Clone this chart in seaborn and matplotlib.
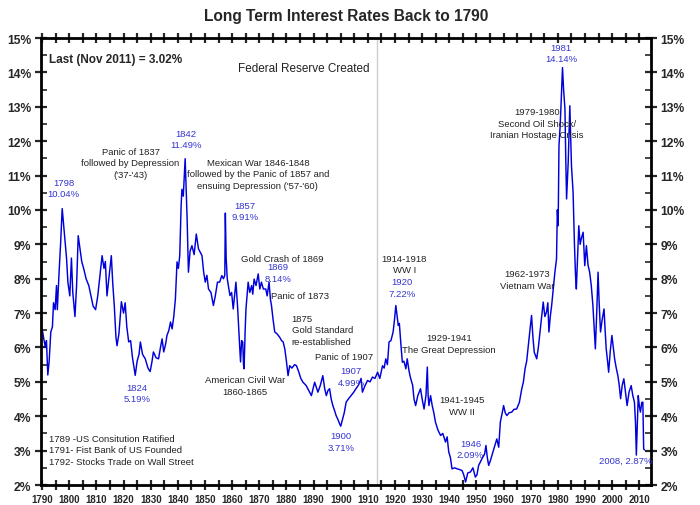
import pandas as pd
import numpy as np
import matplotlib.pyplot as plt
import matplotlib.ticker as mticker
import seaborn as sns

# Long-term rate series (decimal year, percent)
years = [
    1790.0, 1790.5, 1791.2, 1791.6, 1792.1, 1792.6, 1793.2, 1793.8, 1794.2, 1794.8,
    1795.3, 1795.6, 1796.2, 1796.8, 1797.4, 1797.9, 1798.5, 1799.0, 1799.5, 1800.2,
    1800.8, 1801.3, 1802.1, 1802.7, 1803.3, 1803.9, 1804.6, 1805.3, 1806.2, 1807.2,
    1808.0, 1808.8, 1809.7, 1810.5, 1811.2, 1812.1, 1812.8, 1813.3, 1813.9, 1814.6,
    1815.5, 1816.0, 1816.6, 1817.2, 1817.6, 1818.3, 1819.2, 1820.0, 1820.6, 1821.2,
    1821.9, 1822.6, 1823.3, 1824.3, 1825.0, 1825.7, 1826.2, 1827.0, 1828.0, 1829.0,
    1829.8, 1830.5, 1831.0, 1832.0, 1832.9, 1833.6, 1834.2, 1834.8, 1835.5, 1836.0,
    1836.7, 1837.3, 1837.9, 1838.5, 1839.1, 1839.7, 1840.2, 1840.7, 1841.2, 1841.5,
    1842.0, 1842.4, 1842.7, 1843.1, 1843.4, 1843.9, 1844.5, 1845.2, 1846.0, 1846.8,
    1847.6, 1848.9, 1849.5, 1850.1, 1850.7, 1851.3, 1852.2, 1853.1, 1853.8, 1854.6,
    1855.4, 1856.2, 1856.8, 1857.3, 1857.5, 1857.8, 1858.2, 1859.2, 1859.8, 1860.4,
    1861.0, 1861.4, 1862.0, 1862.3, 1862.8, 1863.1, 1863.5, 1863.9, 1864.2, 1864.4,
    1864.8, 1865.1, 1865.9, 1866.5, 1867.2, 1867.6, 1868.1, 1868.8, 1869.6, 1870.2,
    1870.8, 1871.5, 1872.4, 1872.9, 1873.6, 1874.1, 1874.5, 1875.1, 1875.7, 1876.5,
    1877.5, 1878.2, 1878.8, 1879.4, 1880.0, 1880.6, 1881.2, 1882.0, 1883.0, 1883.7,
    1884.5, 1885.3, 1886.1, 1887.3, 1888.2, 1889.2, 1890.4, 1891.6, 1892.5, 1893.4,
    1894.1, 1894.7, 1895.3, 1895.9, 1896.5, 1897.1, 1897.8, 1898.3, 1899.0, 1899.5,
    1900.0, 1900.7, 1901.3, 1902.0, 1902.8, 1903.8, 1904.8, 1905.6, 1906.5, 1907.0,
    1907.5, 1908.0, 1909.0, 1909.9, 1910.8, 1911.7, 1912.6, 1913.6, 1914.4, 1915.4,
    1916.0, 1916.6, 1917.2, 1917.8, 1918.5, 1919.3, 1919.8, 1920.3, 1920.8, 1921.2,
    1921.6, 1922.1, 1922.7, 1923.3, 1924.0, 1924.5, 1925.2, 1925.8, 1926.5, 1927.0,
    1927.6, 1928.4, 1929.4, 1930.0, 1930.7, 1931.4, 1931.9, 1932.2, 1932.5, 1933.1,
    1933.7, 1934.3, 1934.9, 1935.8, 1936.8, 1937.6, 1938.6, 1939.2, 1939.8, 1940.4,
    1941.0, 1942.0, 1942.9, 1943.8, 1944.7, 1945.3, 1946.0, 1946.8, 1947.8, 1948.7,
    1949.6, 1950.2, 1950.8, 1952.0, 1953.0, 1953.5, 1954.0, 1954.5, 1955.1, 1955.7,
    1956.6, 1957.5, 1958.2, 1958.8, 1959.5, 1960.0, 1960.6, 1961.2, 1962.0, 1963.0,
    1963.8, 1964.8, 1965.8, 1966.7, 1967.3, 1967.9, 1968.5, 1969.1, 1969.7, 1970.3,
    1970.8, 1971.3, 1972.2, 1972.8, 1973.4, 1974.0, 1974.6, 1975.2, 1975.8, 1976.3,
    1976.7, 1977.2, 1977.7, 1978.3, 1978.9, 1979.5, 1979.8, 1980.1, 1980.4, 1980.8,
    1981.1, 1981.7, 1982.1, 1982.6, 1982.9, 1983.2, 1983.8, 1984.4, 1985.0, 1985.6,
    1986.1, 1986.5, 1986.8, 1987.2, 1987.7, 1988.2, 1988.6, 1989.3, 1989.9, 1990.5,
    1991.1, 1991.7, 1992.3, 1992.9, 1993.4, 1993.8, 1994.3, 1994.8, 1995.2, 1995.7,
    1996.3, 1997.0, 1997.4, 1997.8, 1998.3, 1998.7, 1999.3, 1999.9, 2000.4, 2000.9,
    2001.5, 2002.1, 2002.6, 2003.1, 2003.7, 2004.3, 2004.9, 2005.5, 2006.2, 2007.0,
    2007.6, 2008.2, 2008.6, 2008.9, 2009.2, 2009.6, 2010.0, 2010.4, 2010.9, 2011.3,
    2011.6, 2011.9,
]
rates = [
    6.55, 6.30, 6.00, 6.20, 5.20, 5.60, 6.45, 6.60, 7.30, 7.10,
    7.80, 7.10, 8.10, 9.00, 10.04, 9.60, 9.10, 8.60, 7.90, 7.50,
    8.60, 7.60, 6.90, 7.80, 9.25, 8.90, 8.50, 8.30, 8.00, 7.80,
    7.50, 7.20, 7.10, 7.50, 8.00, 8.67, 8.30, 8.50, 7.50, 8.00,
    8.67, 7.90, 7.20, 6.30, 6.05, 6.40, 7.33, 7.00, 7.30, 6.60,
    6.16, 6.20, 5.70, 5.19, 5.60, 5.80, 6.16, 5.80, 5.67, 5.40,
    5.30, 5.60, 5.87, 5.70, 5.67, 6.00, 6.25, 5.87, 6.10, 6.35,
    6.50, 6.74, 6.54, 6.90, 7.41, 8.49, 8.30, 8.67, 10.10, 10.60,
    10.40, 11.00, 11.49, 10.50, 9.80, 8.19, 8.80, 8.96, 8.70, 9.30,
    8.87, 8.67, 8.20, 7.90, 8.10, 7.70, 7.60, 7.22, 7.50, 7.90,
    7.90, 8.09, 8.00, 8.10, 9.91, 8.60, 8.00, 7.51, 7.60, 7.12,
    7.60, 7.90, 7.20, 6.74, 6.00, 5.58, 6.20, 6.16, 5.50, 5.38,
    6.50, 7.12, 7.90, 7.60, 7.80, 7.55, 7.99, 7.80, 8.14, 7.70,
    7.90, 7.70, 7.70, 7.50, 7.90, 7.40, 7.22, 6.80, 6.45, 6.40,
    6.30, 6.20, 6.16, 5.96, 5.60, 5.18, 5.47, 5.40, 5.50, 5.47,
    5.30, 5.10, 4.99, 4.89, 4.75, 4.60, 4.99, 4.70, 4.90, 5.18,
    4.80, 4.60, 4.75, 4.80, 4.50, 4.31, 4.15, 4.02, 3.90, 3.80,
    3.71, 3.92, 4.10, 4.41, 4.50, 4.60, 4.70, 4.80, 4.90, 4.99,
    5.10, 4.70, 4.90, 5.04, 5.00, 5.14, 5.10, 5.28, 5.10, 5.47,
    5.40, 5.67, 5.50, 6.16, 6.20, 6.45, 6.80, 7.22, 6.90, 6.64,
    6.70, 6.16, 5.57, 5.60, 5.38, 5.67, 5.30, 5.09, 4.90, 4.50,
    4.31, 4.60, 4.80, 4.50, 4.21, 4.60, 5.43, 4.60, 4.31, 4.60,
    4.31, 4.10, 3.83, 3.60, 3.44, 3.50, 3.25, 3.40, 2.96, 2.80,
    2.47, 2.50, 2.47, 2.45, 2.42, 2.30, 2.09, 2.35, 2.38, 2.50,
    2.23, 2.30, 2.57, 2.76, 2.90, 3.15, 2.80, 2.57, 2.70, 2.86,
    3.10, 3.34, 3.10, 3.83, 4.10, 4.31, 4.10, 4.02, 4.10, 4.12,
    4.20, 4.21, 4.40, 4.80, 5.00, 5.38, 5.60, 6.06, 6.50, 6.93,
    6.30, 5.86, 5.67, 6.00, 6.45, 6.90, 7.32, 6.90, 7.03, 7.30,
    6.45, 6.90, 7.22, 7.70, 8.19, 8.58, 10.00, 9.54, 11.87, 12.40,
    12.94, 14.14, 13.50, 12.94, 11.50, 10.32, 11.39, 13.03, 11.29, 10.51,
    9.00, 8.09, 7.70, 8.50, 9.54, 9.00, 9.16, 9.35, 8.38, 8.96,
    8.40, 8.19, 7.80, 7.22, 6.50, 5.96, 7.00, 8.19, 7.30, 6.45,
    6.80, 7.12, 6.50, 5.96, 5.60, 5.28, 5.90, 6.35, 6.00, 5.67,
    5.40, 5.18, 4.90, 4.51, 4.90, 5.09, 4.70, 4.31, 4.70, 4.89,
    4.60, 4.41, 3.80, 2.87, 3.60, 4.60, 4.30, 4.12, 4.40, 4.41,
    3.05, 3.02,
]

# event labels (black) and peak/trough labels (blue): text, year, rate
event_notes = [
    ("Panic of 1837\nfollowed by Depression\n('37-'43)", 1822.6, 11.37),
    ("Mexican War 1846-1848\nfollowed by the Panic of 1857 and\nensuing Depression ('57-'60)", 1869.5, 11.05),
    ("Gold Crash of 1869", 1878.3, 8.58),
    ("Panic of 1873", 1884.9, 7.50),
    ("American Civil War\n1860-1865", 1864.7, 4.89),
    ("Panic of 1907", 1901.4, 5.73),
    ("1914-1918\nWW I", 1923.4, 8.43),
    ("1929-1941\nThe Great Depression", 1939.8, 6.12),
    ("1941-1945\nWW II", 1944.7, 4.31),
    ("1962-1973\nVietnam War", 1968.6, 7.98),
    ("1979-1980\nSecond Oil Shock/\nIranian Hostage Crisis", 1972.2, 12.52),
]
peak_notes = [
    ("1798\n10.04%", 1797.9, 10.64),
    ("1842\n11.49%", 1843.1, 12.06),
    ("1857\n9.91%", 1864.7, 9.97),
    ("1869\n8.14%", 1876.8, 8.18),
    ("1824\n5.19%", 1825.0, 4.67),
    ("1900\n3.71%", 1900.1, 3.27),
    ("1907\n4.99%", 1903.8, 5.15),
    ("1920\n7.22%", 1922.7, 7.74),
    ("1946\n2.09%", 1947.8, 3.05),
    ("1981\n14.14%", 1981.1, 14.56),
    ("2008, 2.87%", 2005.1, 2.73),
]

df = pd.DataFrame({"year": years, "rate": rates})

sns.set_style("white")
plt.rcParams['font.family'] = ['Liberation Sans', 'DejaVu Sans']
narrow = ['Liberation Sans Narrow', 'Liberation Sans', 'DejaVu Sans']

fig = plt.figure(figsize=(7, 5.06), dpi=100)
ax = fig.add_axes([0.0586, 0.0395, 0.8714, 0.8834])

sns.lineplot(data=df, x="year", y="rate", ax=ax, color="#0000dd", linewidth=1.05)

# Federal Reserve line
ax.axvline(1913.4, color="#cccccc", linewidth=1, zorder=0)

ax.set_xlim(1789.6, 2014.3)
ax.set_ylim(2, 15)
ax.set_xlabel("")
ax.set_ylabel("")

ax.xaxis.set_major_locator(mticker.MultipleLocator(10))
ax.xaxis.set_minor_locator(mticker.MultipleLocator(5))
ax.yaxis.set_major_locator(mticker.MultipleLocator(1))
ax.yaxis.set_minor_locator(mticker.MultipleLocator(0.5))
ax.yaxis.set_major_formatter(mticker.FuncFormatter(lambda v, p: f"{v:.0f}%"))
ax.xaxis.set_major_formatter(mticker.FuncFormatter(lambda v, p: f"{v:.0f}"))

ax.tick_params(axis='x', which='both', direction='inout', length=7, width=1.6,
               top=True, bottom=True, labelsize=7, pad=3)
ax.tick_params(axis='y', which='major', direction='inout', length=8, width=1.6,
               left=True, right=True, labelleft=True, labelright=True,
               labelsize=8.7, pad=3)
ax.tick_params(axis='y', which='minor', direction='in', length=4, width=1.2,
               left=True, right=True)
for lab in ax.get_xticklabels() + ax.get_yticklabels():
    lab.set_fontweight('bold')

for side in ['left', 'right', 'top', 'bottom']:
    ax.spines[side].set_linewidth(2)
    ax.spines[side].set_color('black')

ax.set_title("Long Term Interest Rates Back to 1790", fontsize=11.2, fontweight='bold',
             pad=13)

ax.text(1792.6, 14.39, "Last (Nov 2011) = 3.02%", fontsize=8.5, fontweight='bold',
        ha='left', va='center')
ax.text(1910.6, 14.13, "Federal Reserve Created", fontsize=8.5, ha='right',
        va='center', color='#222222')

for txt, x, y in event_notes:
    ax.text(x, y, txt, fontsize=6.8, family=narrow, ha='center', va='center',
            color='#222222', linespacing=1.35)
ax.text(1881.9, 6.51, "1875\nGold Standard\nre-established", fontsize=6.8,
        family=narrow, ha='left', va='center', color='#222222', linespacing=1.35)
ax.text(1792.4, 3.03,
        "1789 -US Consitution Ratified\n1791- Fist Bank of US Founded\n1792- Stocks Trade on Wall Street",
        fontsize=6.8, family=narrow, ha='left', va='center', color='#222222',
        linespacing=1.35)

for txt, x, y in peak_notes:
    ax.text(x, y, txt, fontsize=6.8, family=narrow, ha='center', va='center',
            color='#3434d0', linespacing=1.35)

plt.savefig("out.png", dpi=100)
